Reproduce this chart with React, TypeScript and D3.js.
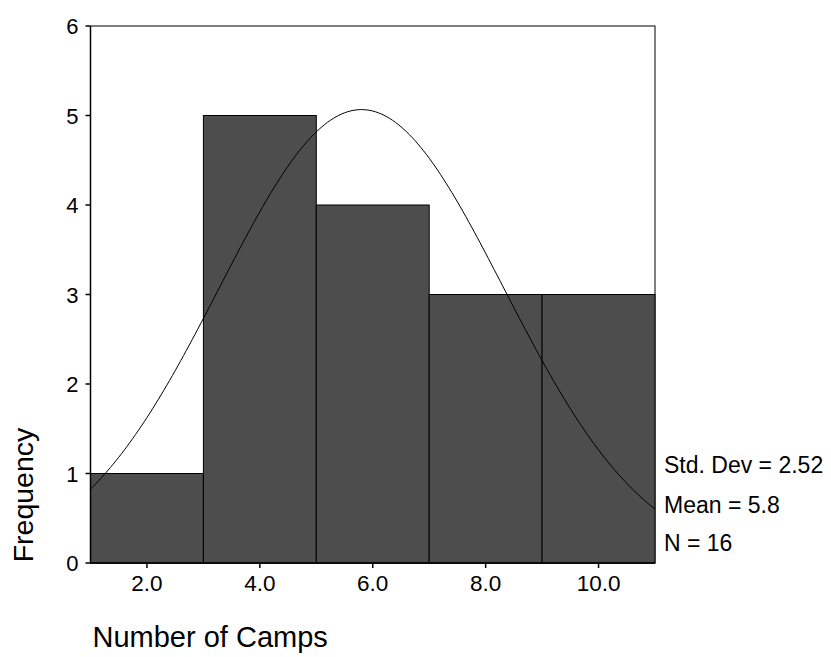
import React from "react";
import * as d3 from "d3";

// histogram bins (lower edge, upper edge) and counts
const binStarts = [1, 3, 5, 7, 9];
const binWidth = 2;
const counts = [1, 5, 4, 3, 3];
const xTicks = [2, 4, 6, 8, 10];
const yTicks = [0, 1, 2, 3, 4, 5, 6];

// summary stats shown at the right
const stdDev = 2.52;
const mean = 5.8;
const n = 16;

const App = () => {
  const left = 90.5,
    right = 655,
    top = 26,
    bottom = 563;

  const x = d3.scaleLinear().domain([1, 11]).range([left, right]);
  const y = d3.scaleLinear().domain([0, 6]).range([bottom, top]);

  // normal curve scaled to the histogram
  const curveX = d3.range(1, 11.001, 0.05);
  const normal = (v: number) =>
    ((n * binWidth) / (stdDev * Math.sqrt(2 * Math.PI))) *
    Math.exp(-0.5 * Math.pow((v - mean) / stdDev, 2));
  const line = d3
    .line<number>()
    .x((d) => x(d))
    .y((d) => y(normal(d)));

  const font = "Arial, 'Liberation Sans', sans-serif";

  return (
    <svg width={831} height={657} style={{ position: "absolute", left: 0, top: 0 }}>
      <rect x={0} y={0} width={831} height={657} fill="white" />
      <rect x={left} y={top} width={right - left} height={bottom - top} fill="white" stroke="black" strokeWidth={1} />
      {binStarts.map((b, i) => (
        <rect
          key={i}
          x={x(b)}
          y={y(counts[i])}
          width={x(b + binWidth) - x(b)}
          height={y(0) - y(counts[i])}
          fill="#4d4d4d"
          stroke="black"
          strokeWidth={1}
        />
      ))}
      <path d={line(curveX) || ""} fill="none" stroke="black" strokeWidth={1} />
      <line x1={left} x2={left} y1={top} y2={bottom} stroke="black" strokeWidth={1.5} />
      <line x1={left} x2={right} y1={bottom} y2={bottom} stroke="black" strokeWidth={1.5} />
      {yTicks.map((t) => (
        <g key={t}>
          <line x1={left - 5} x2={left} y1={y(t)} y2={y(t)} stroke="black" strokeWidth={1.5} />
          <text x={left - 12} y={y(t) + 8} textAnchor="end" fontFamily={font} fontSize={22}>
            {t}
          </text>
        </g>
      ))}
      {xTicks.map((t) => (
        <g key={t}>
          <line x1={x(t)} x2={x(t)} y1={bottom} y2={bottom + 5} stroke="black" strokeWidth={1.5} />
          <text x={x(t)} y={591} textAnchor="middle" fontFamily={font} fontSize={22.5}>
            {t.toFixed(1)}
          </text>
        </g>
      ))}
      <text x={664} y={473} fontFamily={font} fontSize={23}>
        {`Std. Dev = ${stdDev.toFixed(2)}`}
      </text>
      <text x={664} y={513} fontFamily={font} fontSize={23}>
        {`Mean = ${mean.toFixed(1)}`}
      </text>
      <text x={664} y={551} fontFamily={font} fontSize={23}>
        {`N = ${n}`}
      </text>
      <text
        transform={`translate(33,495) rotate(-90)`}
        textAnchor="middle"
        fontFamily={font}
        fontSize={28.5}
      >
        Frequency
      </text>
      <text x={92.5} y={647} fontFamily={font} fontSize={29}>
        Number of Camps
      </text>
    </svg>
  );
};

export default App;
